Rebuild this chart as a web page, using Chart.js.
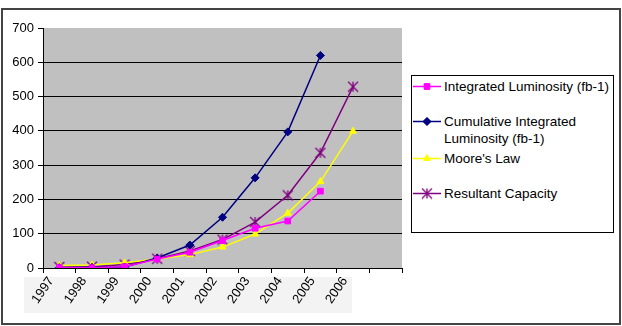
<!DOCTYPE html>
<html lang="en">
<head>
<meta charset="UTF-8">
<title>Luminosity vs Moore's Law</title>
<script src="https://cdn.jsdelivr.net/npm/chart.js"></script>
<style>
    body { margin: 0; font-family: "Liberation Sans", Arial, sans-serif; background: #fff; }
    .frame { position: absolute; left: 1px; top: 8px; width: 616px; height: 313px; border: 2px solid #444; }
    .wrap { position: absolute; left: 0; top: 0; width: 622px; height: 326px; }
    .legend { position: absolute; left: 411px; top: 75px; width: 201px; height: 156px; border: 1px solid #000; background: #fff; }
    .entry { position: absolute; left: 0; display: flex; align-items: flex-start; font-size: 13.5px; line-height: 17px; color: #000; }
    .swatch { position: relative; width: 28px; height: 17px; margin-left: 1px; margin-right: 3px; }
    .swatch canvas { position: absolute; left: 0; top: 0; }
    .label { width: 168px; white-space: normal; }
</style>
</head>
<body>
<div class="frame"></div>
<div class="wrap"><canvas id="chart" width="622" height="326"></canvas></div>
<div class="legend" id="legend"></div>

<script>
// data
const years = ['1997', '1998', '1999', '2000', '2001', '2002', '2003', '2004', '2005', '2006', ''];
const integratedLumi = [1, 1, 4, 26, 46, 80, 116, 137, 224, null, null];
const cumulativeLumi = [1, 2, 3, 29, 67, 148, 263, 397, 620, null, null];
const mooresLaw = [7, 9, 15, 26, 39, 61, 99, 160, 252, 399, null];
const resultantCapacity = [3, 4, 10, 27, 50, 83, 134, 212, 336, 529, null];

const seriesNames = ['Integrated Luminosity (fb-1)', 'Cumulative Integrated Luminosity (fb-1)', "Moore's Law", 'Resultant Capacity'];
const seriesColors = ['#FF00FF', '#000080', '#FFFF00', '#800080'];
const seriesData = [integratedLumi, cumulativeLumi, mooresLaw, resultantCapacity];

// Excel style star: an X with a vertical bar through it
function excelStar(color, r) {
    const c = document.createElement('canvas');
    c.width = c.height = 2 * r + 2;
    const g = c.getContext('2d');
    const m = r + 1;
    g.strokeStyle = color;
    g.lineWidth = 1.3;
    g.beginPath();
    g.moveTo(m - r, m - r); g.lineTo(m + r, m + r);
    g.moveTo(m + r, m - r); g.lineTo(m - r, m + r);
    g.moveTo(m, m - r); g.lineTo(m, m + r);
    g.stroke();
    return c;
}
const seriesMarkers = ['rect', 'rectRot', 'triangle', excelStar('#800080', 5)];

// plot background + grey box behind the year labels
const backdrop = {
    id: 'backdrop',
    beforeDraw(chart) {
        const { ctx, chartArea: a } = chart;
        ctx.save();
        ctx.fillStyle = '#f3f3f3';
        ctx.fillRect(24, 277, 328, 36);
        ctx.fillStyle = '#C0C0C0';
        ctx.fillRect(a.left, a.top, a.right - a.left, a.bottom - a.top);
        ctx.restore();
    }
};

const ctx = document.getElementById('chart').getContext('2d');
new Chart(ctx, {
    type: 'line',
    data: {
        labels: years,
        datasets: seriesData.map((d, i) => ({
            label: seriesNames[i],
            data: d,
            borderColor: seriesColors[i],
            backgroundColor: seriesColors[i],
            pointStyle: seriesMarkers[i],
            pointRadius: 4,
            pointBorderWidth: 1,
            borderWidth: 1.5,
            tension: 0
        }))
    },
    options: {
        responsive: false,
        animation: false,
        layout: { padding: { left: 0, top: 28, right: 220, bottom: 0 } },
        plugins: { legend: { display: false }, tooltip: { enabled: false } },
        scales: {
            x: {
                offset: true,
                grid: { offset: true, display: true, drawOnChartArea: false, color: '#000', tickLength: 5 },
                border: { color: '#000', width: 1 },
                ticks: {
                    color: '#000',
                    font: { family: '"Liberation Sans", Arial', size: 13 },
                    minRotation: 55, maxRotation: 55,
                    labelOffset: -8,
                    padding: 1,
                    autoSkip: false
                },
                afterFit(scale) { scale.height = 58; }
            },
            y: {
                min: 0, max: 700,
                ticks: {
                    stepSize: 100,
                    color: '#000',
                    font: { family: '"Liberation Sans", Arial', size: 13 },
                    padding: 4
                },
                grid: {
                    color: c => (c.tick && c.tick.value === 700) ? 'rgba(0,0,0,0)' : '#000',
                    tickColor: '#000',
                    tickLength: 5,
                    lineWidth: 1
                },
                border: { color: '#000', width: 1 },
                afterFit(scale) { scale.width = 43; }
            }
        }
    },
    plugins: [backdrop]
});

// HTML legend built from the series
const legendTops = [2, 37, 74, 109];
const legend = document.getElementById('legend');
seriesNames.forEach((name, i) => {
    const entry = document.createElement('div');
    entry.className = 'entry';
    entry.style.top = legendTops[i] + 'px';
    const sw = document.createElement('div');
    sw.className = 'swatch';
    const c = document.createElement('canvas');
    c.width = 28; c.height = 17;
    const g = c.getContext('2d');
    g.strokeStyle = seriesColors[i];
    g.lineWidth = 1.5;
    g.beginPath(); g.moveTo(0, 8.5); g.lineTo(28, 8.5); g.stroke();
    g.fillStyle = seriesColors[i];
    g.lineWidth = 1;
    Chart.helpers.drawPoint(g, { pointStyle: seriesMarkers[i], radius: 4, rotation: 0, borderWidth: 1 }, 14, 8.5);
    if (typeof seriesMarkers[i] === 'string') g.fill();
    sw.appendChild(c);
    const lab = document.createElement('div');
    lab.className = 'label';
    lab.textContent = name;
    entry.appendChild(sw);
    entry.appendChild(lab);
    legend.appendChild(entry);
});
</script>
</body>
</html>
